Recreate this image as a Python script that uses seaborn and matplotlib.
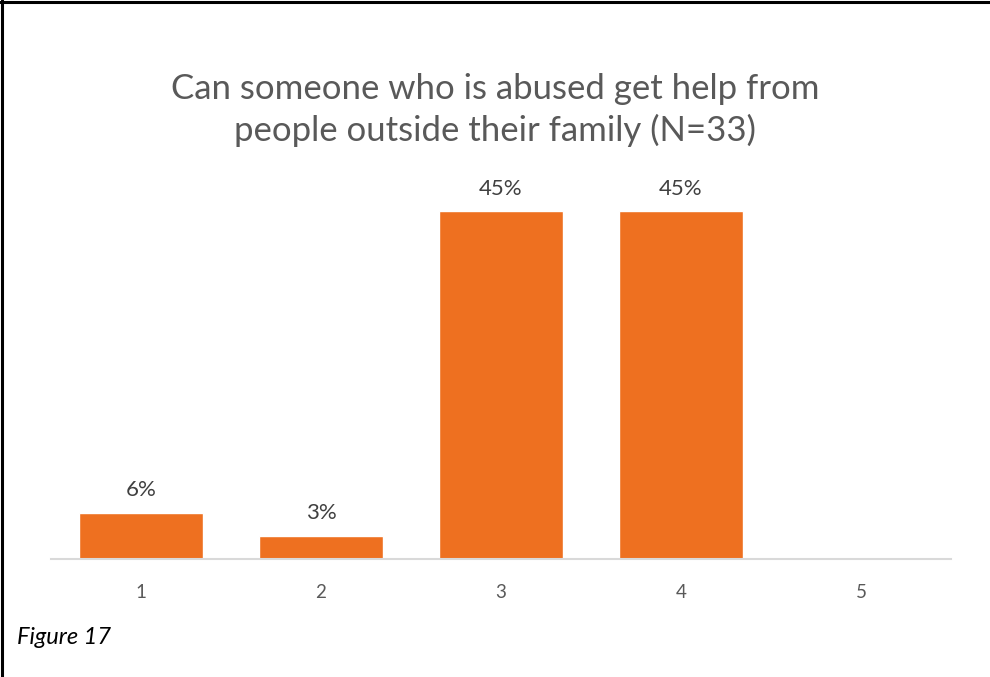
import matplotlib
matplotlib.use("Agg")
import matplotlib.pyplot as plt
from matplotlib.lines import Line2D
import seaborn as sns
import pandas as pd

# Survey responses (N=33), share of respondents per answer
categories = ["1", "2", "3", "4", "5"]
shares = [6.06, 3.03, 45.45, 45.45, 0.0]
labels = ["6%", "3%", "45%", "45%", ""]

title = "Can someone who is abused get help from\npeople outside their family (N=33)"
caption = "Figure 17"

df = pd.DataFrame({"answer": categories, "share": shares})

sns.set_theme(style="white")
plt.rcParams["font.family"] = ["Lato", "DejaVu Sans"]

fig = plt.figure(figsize=(9.9, 6.77), dpi=100)
ax = fig.add_axes([0.0515, 0.1743, 0.9091, 0.58])

sns.barplot(data=df, x="answer", y="share", color="#EE7020", saturation=1,
            width=0.69, ax=ax)

ax.set_ylim(0, 51.3)
ax.set_xlim(-0.5, 4.5)
ax.set_xlabel("")
ax.set_ylabel("")
ax.set_yticks([])
for side in ["top", "right", "left"]:
    ax.spines[side].set_visible(False)
ax.spines["bottom"].set_color("#D9D9D9")
ax.spines["bottom"].set_linewidth(1.5)
ax.tick_params(axis="x", length=0, pad=18, labelsize=13.5, labelcolor="#595959")

for container in ax.containers:
    ax.bar_label(container, labels=labels, padding=9, fontsize=16, color="#404040")

fig.text(0.5, 0.8375, title, ha="center", va="center", fontsize=25,
         color="#595959", linespacing=1.33)
fig.text(0.017, 0.058, caption, ha="left", va="center", fontsize=17,
         style="italic", color="#000000")

# Frame lines along the top and left edges
fig.add_artist(Line2D([0, 1], [0.9965, 0.9965], transform=fig.transFigure,
                      color="black", linewidth=2.2))
fig.add_artist(Line2D([0.002, 0.002], [0, 1], transform=fig.transFigure,
                      color="black", linewidth=2.2))

fig.savefig("out.png", dpi=100)
